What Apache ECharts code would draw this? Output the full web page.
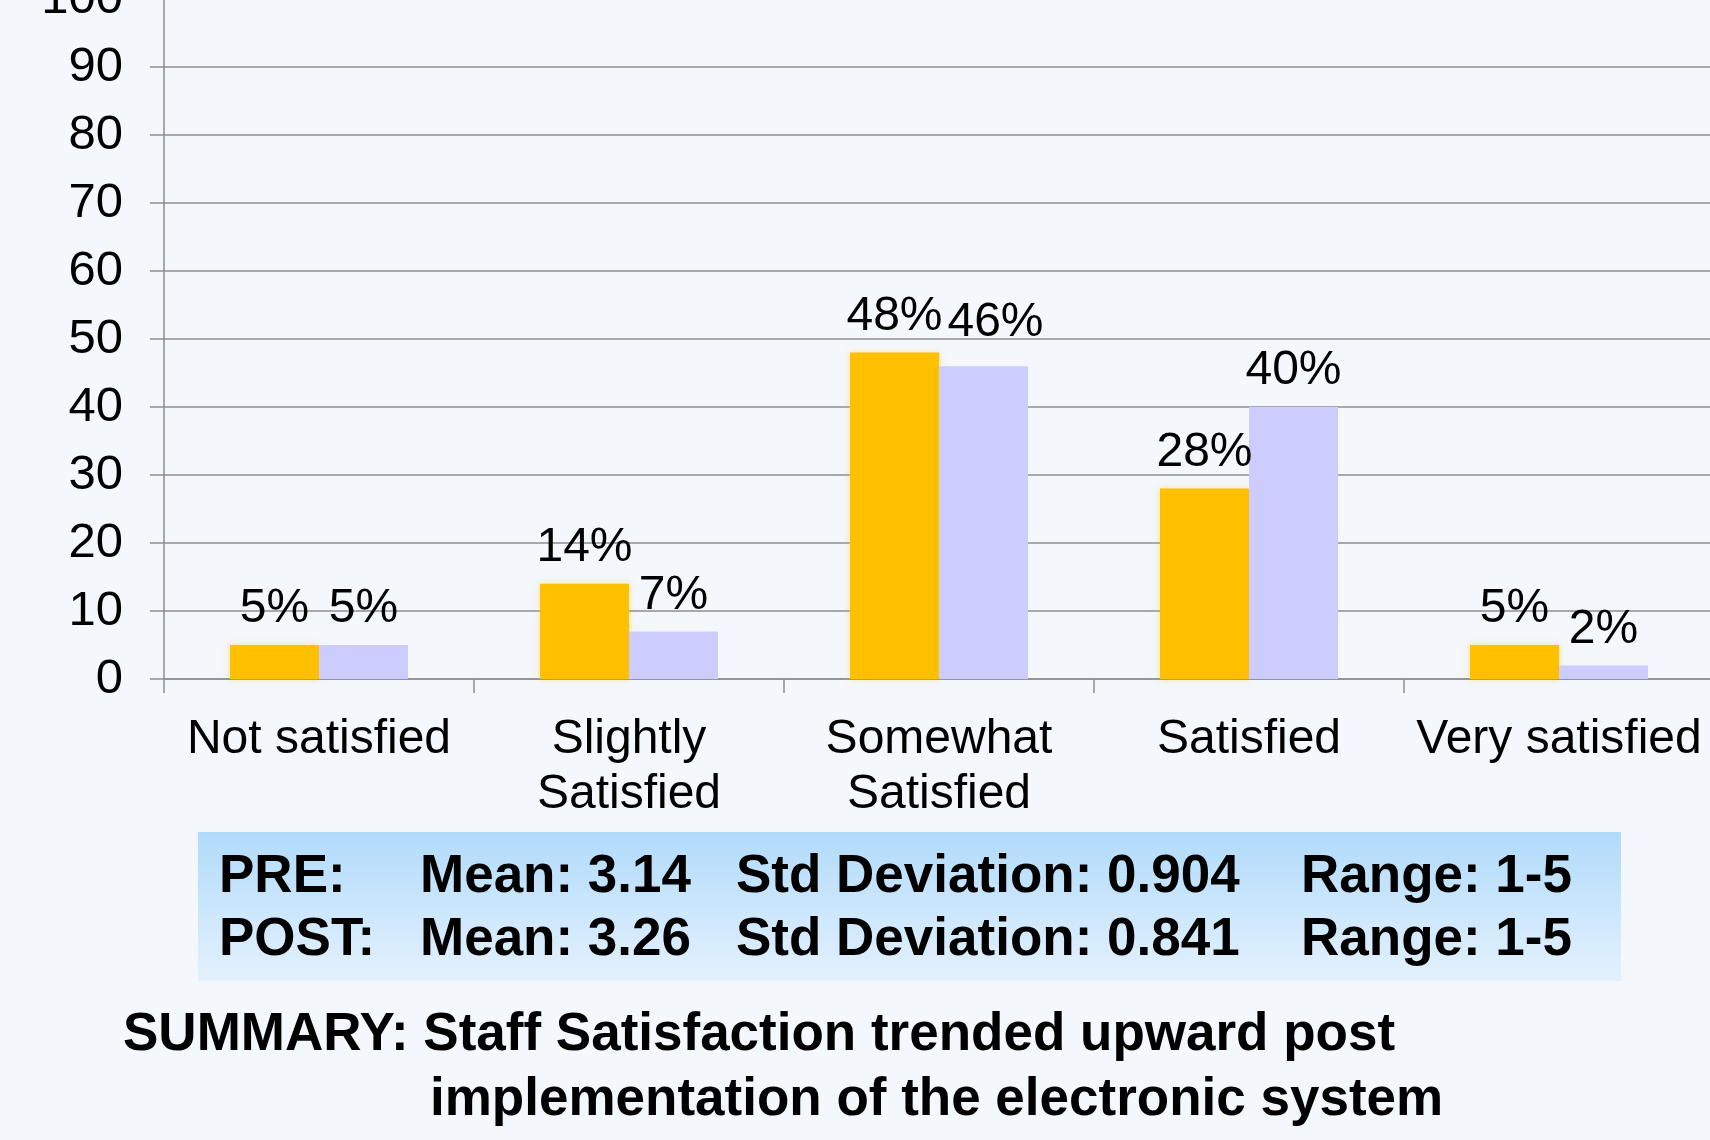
<!DOCTYPE html>
<html>
<head>
<meta charset="utf-8">
<script src="https://cdn.jsdelivr.net/npm/echarts@6/dist/echarts.min.js"></script>
<style>
  html, body { margin: 0; padding: 0; background: #F4F7FB; }
  #chart { width: 1710px; height: 1140px; }
</style>
</head>
<body>
<div id="chart"></div>
<script>
// ---- data ----
var categories = ['Not satisfied', 'Slightly\nSatisfied', 'Somewhat\nSatisfied', 'Satisfied', 'Very satisfied'];
var preValues = [5, 14, 48, 28, 5];
var postValues = [5, 7, 46, 40, 2];
var yTicks = [0, 10, 20, 30, 40, 50, 60, 70, 80, 90, 100];
var statsPre = ['PRE:', 'Mean: 3.14', 'Std Deviation: 0.904', 'Range: 1-5'];
var statsPost = ['POST:', 'Mean: 3.26', 'Std Deviation: 0.841', 'Range: 1-5'];
var summaryLines = ['SUMMARY: Staff Satisfaction trended upward post', 'implementation of the electronic system'];

// ---- styles ----
var FONT = '"Liberation Sans", Arial, Helvetica, sans-serif';
var gridColor = '#8e8e8e';
var statCols = [219, 420, 736, 1301];
var postLabelTweaks = { 2: { offset: [12, -7] } };

var chart = echarts.init(document.getElementById('chart'), null, { renderer: 'canvas' });

function textEl(str, x, y, size) {
  return {
    type: 'text', x: x, y: y, silent: true,
    style: {
      text: str, fill: '#000', font: 'bold ' + size + 'px ' + FONT,
      align: 'left', verticalAlign: 'middle'
    }
  };
}

var graphics = [{
  type: 'rect', silent: true, z: -1,
  shape: { x: 198, y: 832, width: 1423, height: 149 },
  style: {
    fill: new echarts.graphic.LinearGradient(0, 0, 0, 1, [
      { offset: 0, color: '#B1DBFB' },
      { offset: 1, color: '#E4F1FD' }
    ])
  }
}];
statsPre.forEach(function (s, i) { graphics.push(textEl(s, statCols[i], 877, 53)); });
statsPost.forEach(function (s, i) { graphics.push(textEl(s, statCols[i], 940, 53)); });
graphics.push(textEl(summaryLines[0], 123, 1035, 53));
graphics.push(textEl(summaryLines[1], 430, 1100, 53));

var valueLabel = {
  show: true, position: 'top', distance: 12,
  formatter: function (p) { return p.value + '%'; },
  color: '#000', fontFamily: FONT, fontSize: 48
};

var option = {
  backgroundColor: '#F4F7FB',
  animation: false,
  grid: { left: 164, top: -1, width: 1550, height: 680, outerBoundsMode: 'none', containLabel: false },
  xAxis: {
    type: 'category',
    data: categories,
    axisLine: { show: true, lineStyle: { color: gridColor, width: 1.5 } },
    axisTick: { show: true, length: 14, alignWithLabel: false, lineStyle: { color: gridColor, width: 1.5 } },
    axisLabel: {
      interval: 0, margin: 33, color: '#000', fontFamily: FONT, fontSize: 48,
      lineHeight: 55, align: 'center', hideOverlap: false
    },
    splitLine: { show: false }
  },
  yAxis: {
    type: 'value', min: yTicks[0], max: yTicks[yTicks.length - 1], interval: yTicks[1] - yTicks[0],
    axisLine: { show: true, lineStyle: { color: gridColor, width: 1.5 } },
    axisTick: { show: true, length: 14, inside: false, lineStyle: { color: gridColor, width: 1.5 } },
    axisLabel: { margin: 41, color: '#000', fontFamily: FONT, fontSize: 49, showMinLabel: true, showMaxLabel: true },
    splitLine: { show: true, lineStyle: { color: gridColor, width: 1.5 } }
  },
  series: [
    {
      name: 'PRE', type: 'bar', data: preValues, barWidth: 89, barGap: '0%',
      itemStyle: { color: '#FFC000', shadowBlur: 6, shadowColor: 'rgba(255,192,0,0.45)' },
      label: valueLabel
    },
    {
      name: 'POST', type: 'bar', barWidth: 89, barGap: '0%',
      data: postValues.map(function (v, i) {
        return postLabelTweaks[i] ? { value: v, label: postLabelTweaks[i] } : v;
      }),
      itemStyle: { color: '#CCCCFF' },
      label: valueLabel
    }
  ],
  graphic: graphics
};

chart.setOption(option);
</script>
</body>
</html>
